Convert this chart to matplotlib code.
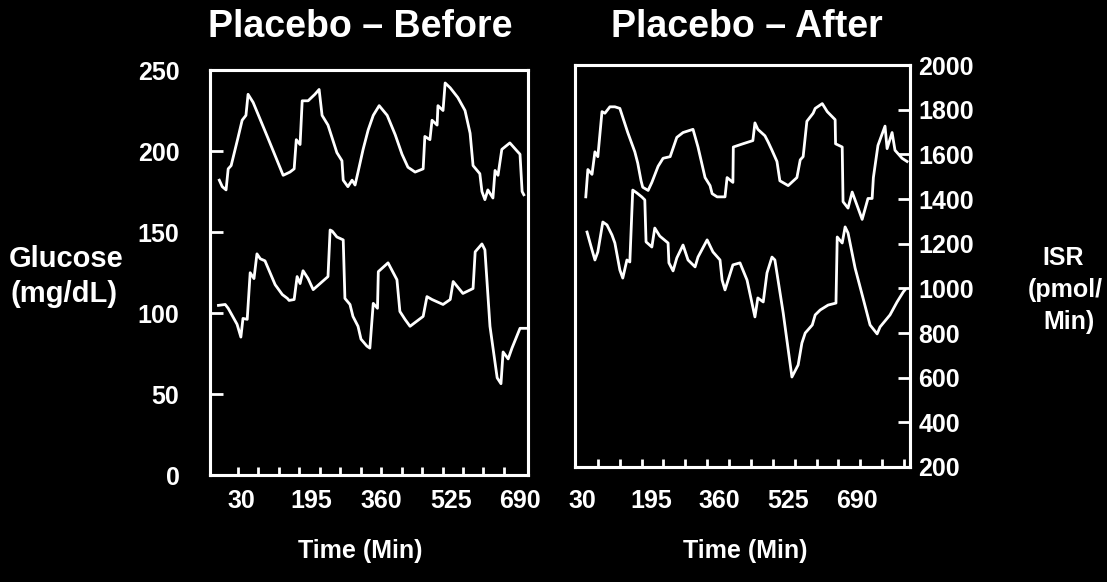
import matplotlib.pyplot as plt
import numpy as np

# Fuente en negrita parecida a Helvetica
plt.rcParams['font.family'] = ['Liberation Sans', 'DejaVu Sans']
plt.rcParams['font.weight'] = 'bold'

# Placebo - Before: glucosa (curva superior) e ISR (curva inferior)
before_glu_time = [-22, -15, -6, -1, 6, 22, 32, 41, 46, 58, 93, 129, 145, 155, 160, 169,
                   174, 188, 204, 214, 221, 235, 256, 268, 271, 282, 292, 299, 306, 318,
                   330, 342, 356, 375, 394, 410, 424, 441, 460, 464, 476, 481, 493, 495,
                   507, 512, 524, 542, 559, 571, 578, 594, 599, 606, 613, 625, 630, 637,
                   646, 665, 682, 689, 694, 698]
before_glucose = [182, 178, 176, 189, 191, 208, 219, 222, 235, 230, 208, 185, 187, 189, 207, 204,
                  231, 231, 235, 238, 222, 216, 199, 194, 182, 178, 182, 179, 187, 201,
                  213, 222, 228, 222, 210, 198, 190, 187, 189, 209, 207, 219, 216, 228,
                  225, 242, 239, 233, 225, 211, 191, 186, 175, 170, 176, 171, 188, 185,
                  201, 205, 200, 198, 175, 173]
before_isr_time = [-24, -8, -1, 20, 29, 34, 44, 51, 60, 67, 75, 86, 110, 127, 139, 143,
                   155, 162, 169, 176, 188, 200, 235, 240, 245, 256, 271, 275, 287, 294,
                   306, 313, 327, 334, 342, 352, 354, 377, 398, 405, 417, 429, 460, 469,
                   481, 507, 524, 531, 554, 578, 583, 599, 606, 618, 635, 644, 649, 661,
                   670, 689, 706]
before_isr = [954, 958, 941, 870, 813, 896, 892, 1099, 1073, 1183, 1161, 1152, 1046, 1002, 985, 976,
              980, 1082, 1051, 1108, 1073, 1024, 1082, 1289, 1284, 1258, 1245, 985, 958, 905,
              861, 804, 773, 764, 963, 941, 1104, 1143, 1068, 927, 892, 861, 905, 993,
              980, 958, 980, 1060, 1007, 1029, 1192, 1227, 1201, 861, 632, 606, 747, 716,
              764, 852, 852]

# Placebo - After
after_glu_time = [38, 43, 53, 60, 67, 77, 84, 96, 108, 120, 139, 156, 163, 171, 175, 188,
                  197, 212, 224, 241, 257, 272, 296, 308, 325, 337, 342, 354, 373, 378,
                  392, 393, 416, 440, 445, 452, 469, 477, 486, 498, 505, 525, 546, 554,
                  561, 570, 585, 590, 607, 619, 638, 639, 655, 657, 669, 679, 703, 717,
                  727, 730, 741, 758, 763, 775, 782, 799, 811]
after_glucose = [168, 185, 182, 196, 193, 221, 220, 224, 224, 223, 208, 196, 189, 178, 174, 172,
                 177, 187, 192, 193, 205, 208, 210, 199, 180, 175, 170, 168, 168, 180,
                 177, 199, 201, 203, 214, 210, 206, 202, 197, 190, 178, 175, 180, 191,
                 193, 215, 220, 223, 226, 221, 216, 201, 199, 165, 161, 171, 154, 167,
                 167, 180, 200, 212, 198, 208, 197, 192, 190]
after_isr_time = [41, 53, 60, 67, 79, 89, 101, 108, 120, 127, 137, 144, 151, 161, 173, 180,
                  183, 197, 204, 216, 236, 238, 248, 257, 272, 284, 301, 308, 330, 344,
                  361, 366, 373, 392, 409, 426, 445, 452, 465, 474, 486, 493, 513, 534,
                  549, 558, 566, 583, 590, 602, 621, 640, 643, 655, 662, 669, 686, 705,
                  722, 739, 746, 770, 787, 802, 806]
after_isr = [1252, 1172, 1127, 1163, 1297, 1284, 1239, 1203, 1082, 1046, 1127, 1118, 1440, 1427, 1409, 1396,
             1208, 1185, 1270, 1234, 1203, 1114, 1078, 1136, 1194, 1127, 1096, 1140, 1217, 1163,
             1127, 1037, 993, 1105, 1114, 1037, 872, 957, 939, 1069, 1140, 1127, 890, 603,
             657, 755, 800, 836, 881, 903, 925, 934, 1230, 1203, 1275, 1248, 1091, 957,
             836, 796, 827, 881, 939, 984, 993]

time_labels = [30, 195, 360, 525, 690]
glucose_ticks = [0, 50, 100, 150, 200, 250]
isr_ticks = [200, 400, 600, 800, 1000, 1200, 1400, 1600, 1800, 2000]

fig = plt.figure(figsize=(11.07, 5.82), dpi=100, facecolor='black')


def panel(rect, t_glu, glu, t_isr, isr, xlim, minor_ticks, xpad):
    ax = fig.add_axes(rect)
    ax.set_facecolor('black')
    ax2 = ax.twinx()
    ax.plot(t_glu, glu, color='white', lw=2.0)
    ax2.plot(t_isr, isr, color='white', lw=2.0)
    ax.set_xlim(xlim)
    ax.set_ylim(0, 250)
    ax2.set_ylim(200, 2000)
    # Eje de tiempo: etiquetas sin marca, marcas menores hacia dentro
    ax.set_xticks(time_labels)
    ax.set_xticks(minor_ticks, minor=True)
    ax.tick_params(axis='x', which='major', length=0, pad=xpad, labelsize=18, colors='white')
    ax.tick_params(axis='x', which='minor', direction='in', length=6, width=2, color='white')
    for a in (ax, ax2):
        for s in a.spines.values():
            s.set_color('white')
            s.set_linewidth(2.2)
    return ax, ax2


# Panel izquierdo
ax, ax2 = panel([0.1897, 0.1838, 0.2873, 0.6959], before_glu_time, before_glucose,
                before_isr_time, before_isr, (-44, 708), np.linspace(22, 651, 14), 10)
ax.set_yticks(glucose_ticks)
ax.tick_params(axis='y', direction='in', length=9, width=2, colors='white', labelsize=18, pad=22)
ax2.set_yticks([])

# Panel derecho
bx, bx2 = panel([0.5194, 0.1976, 0.3026, 0.6907], after_glu_time, after_glucose,
                after_isr_time, after_isr, (12, 818), np.linspace(67, 804, 15), 16)
bx.set_yticks([])
bx2.set_yticks(isr_ticks)
bx2.tick_params(axis='y', direction='in', length=9, width=2, colors='white', labelsize=18, pad=6)

# Titulos y textos
fig.text(360 / 1107, 1 - 27 / 582, 'Placebo – Before', color='white', fontsize=27, ha='center', va='center')
fig.text(747 / 1107, 1 - 27 / 582, 'Placebo – After', color='white', fontsize=27, ha='center', va='center')
fig.text(66 / 1107, 1 - 259 / 582, 'Glucose', color='white', fontsize=21, ha='center', va='center')
fig.text(64 / 1107, 1 - 294 / 582, '(mg/dL)', color='white', fontsize=21, ha='center', va='center')
fig.text(1063 / 1107, 1 - 258 / 582, 'ISR', color='white', fontsize=18, ha='center', va='center')
fig.text(1065 / 1107, 1 - 290 / 582, '(pmol/', color='white', fontsize=18, ha='center', va='center')
fig.text(1069 / 1107, 1 - 322 / 582, 'Min)', color='white', fontsize=18, ha='center', va='center')
fig.text(360 / 1107, 1 - 551 / 582, 'Time (Min)', color='white', fontsize=18, ha='center', va='center')
fig.text(745 / 1107, 1 - 551 / 582, 'Time (Min)', color='white', fontsize=18, ha='center', va='center')

plt.savefig('out.png', dpi=100, facecolor='black')
